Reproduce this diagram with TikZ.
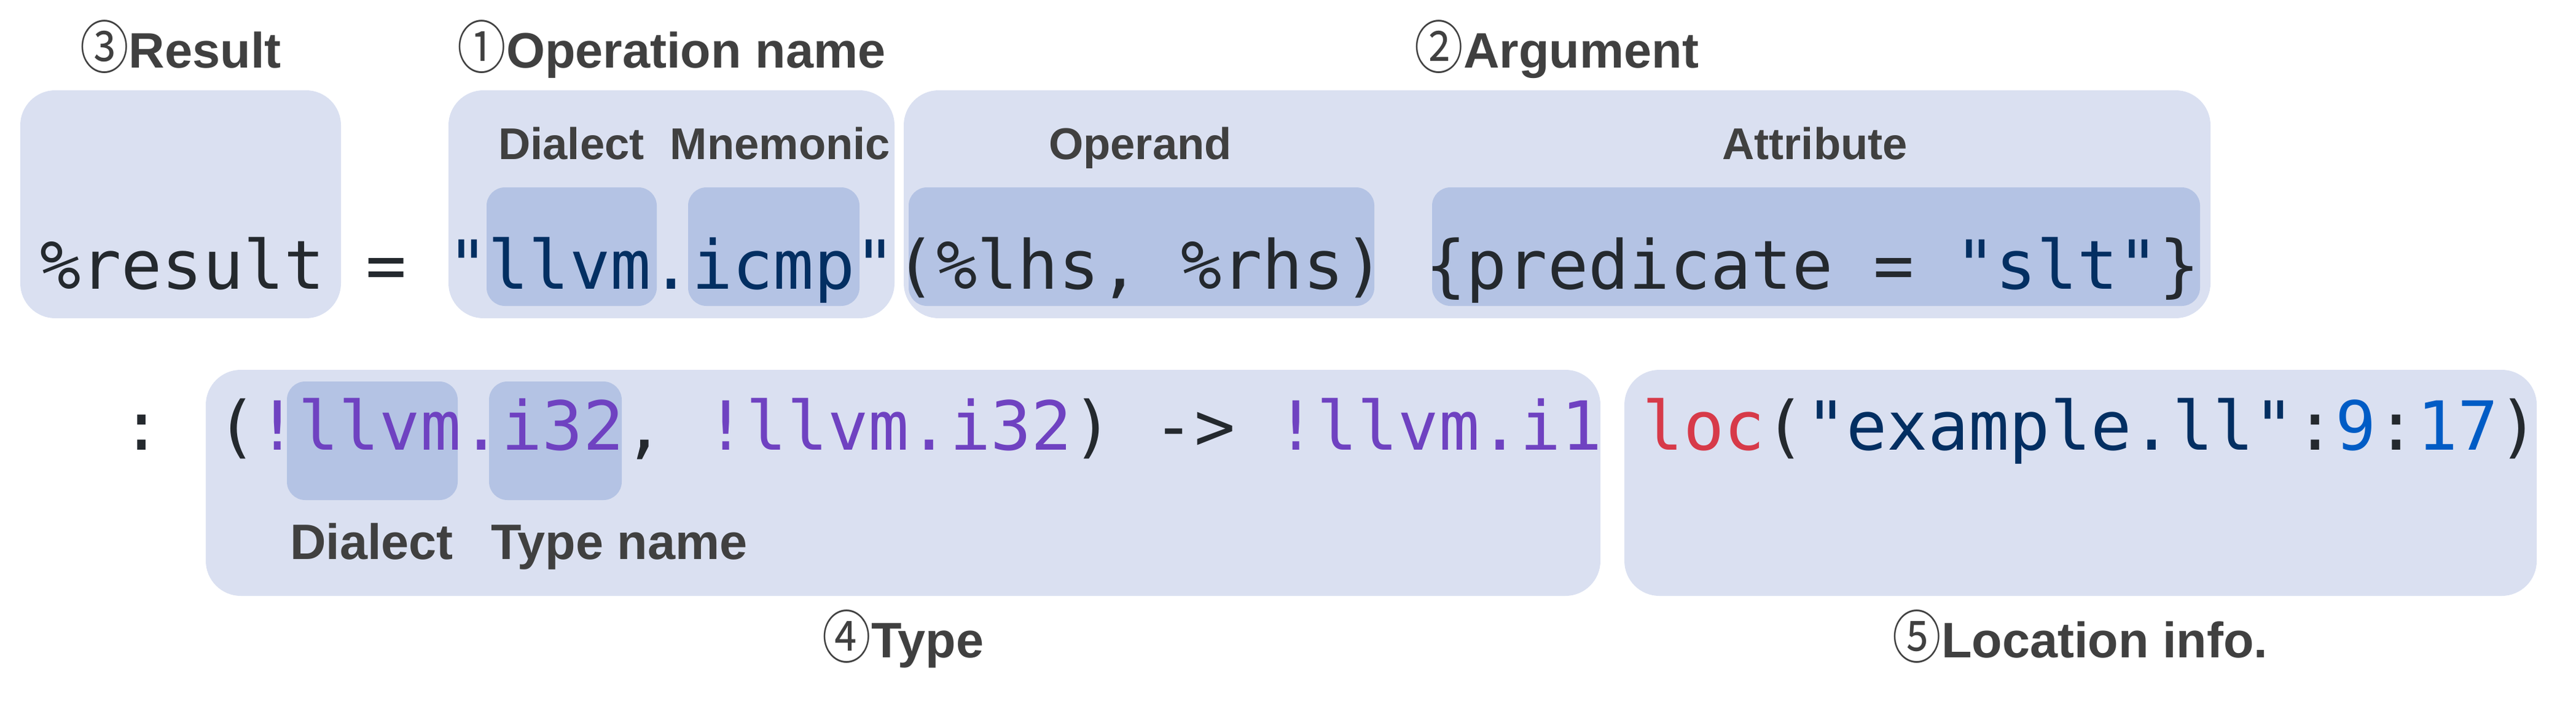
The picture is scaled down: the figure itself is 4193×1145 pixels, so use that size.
\documentclass[tikz,border=0pt]{standalone}
\usepackage{graphicx}
\usepackage{fontspec}
\setmainfont{Liberation Sans}
\newfontfamily\codefont{DejaVu Sans Mono}
\newfontfamily\cjk{Noto Sans CJK JP}
\definecolor{outerfill}{HTML}{DAE0F1}
\definecolor{innerfill}{HTML}{B4C3E4}
\definecolor{labelgray}{HTML}{404040}
\definecolor{codedark}{HTML}{24292E}
\definecolor{codestr}{HTML}{032F62}
\definecolor{codetype}{HTML}{6F42C1}
\definecolor{codekw}{HTML}{D73A49}
\definecolor{codenum}{HTML}{005CC5}
\tikzset{
  outerbox/.style={fill=outerfill, rounded corners=16.2pt},
  innerbox/.style={fill=innerfill, rounded corners=8.5pt},
  heading/.style={inner sep=0pt, outer sep=0pt, anchor=base, text=labelgray, font=\fontsize{23.05}{27}\selectfont\bfseries},
  sublabel/.style={inner sep=0pt, outer sep=0pt, anchor=base, text=labelgray, font=\fontsize{20.6}{24}\selectfont\bfseries},
  typelabel/.style={inner sep=0pt, outer sep=0pt, text=labelgray, font=\fontsize{23.05}{27}\selectfont\bfseries},
  codeline/.style={inner sep=0pt, outer sep=0pt, anchor=base west, text=codedark, font=\codefont\fontsize{31.33}{36}\selectfont},
}
\newcommand{\circnum}[1]{{\cjk\mdseries\raisebox{-0.02em}{\scalebox{0.98}[1.15]{#1}}}}
\begin{document}
\begin{tikzpicture}[x=0.01cm,y=-0.01cm]
\useasboundingbox (0,0) rectangle (4193,1145);
% row 1 outer boxes
\path[outerbox] (33,147) rectangle (555,518);
\path[outerbox] (730,147) rectangle (1456,518);
\path[outerbox] (1471,147) rectangle (3598,518);
% row 1 inner boxes
\path[innerbox] (792,305) rectangle (1069,498);
\path[innerbox] (1120,305) rectangle (1399,498);
\path[innerbox] (1479,305) rectangle (2237,498);
\path[innerbox] (2331,305) rectangle (3581,498);
% row 2 outer boxes
\path[outerbox] (335,602) rectangle (2605,970);
\path[outerbox] (2644,602) rectangle (4129,970);
% row 2 inner boxes
\path[innerbox] (467,621) rectangle (745,814);
\path[innerbox] (796,621) rectangle (1012,814);
% headings
\node[heading] (hres) at (294,110) {\circnum{③}Result};
\node[heading] (hop) at (1093,110) {\circnum{①}Operation name};
\node[heading] (harg) at (2534,110) {\circnum{②}Argument};
\node[heading] (htype) at (1470,1070) {\circnum{④}Type};
\node[heading] (hloc) at (3386,1070) {\circnum{⑤}Location info.};
% row 1 labels
\node[sublabel] (ldial) at (930,259) {Dialect};
\node[sublabel] (lmnem) at (1270,259) {Mnemonic};
\node[sublabel] (loper) at (1856,259) {Operand};
\node[sublabel] (lattr) at (2954,259) {Attribute};
% row 2 labels
\node[typelabel, anchor=base] (tdial) at (605,910) {Dialect};
\node[typelabel, anchor=base west] (tname) at (799,910) {Type name};
% code
\node[codeline] (code1) at (65,470) {\%result = \textcolor{codestr}{"llvm.icmp"}(\%lhs, \%rhs) \{predicate = \textcolor{codestr}{"slt"}\}};
\node[codeline] (code2) at (197.6,732) {: (\textcolor{codetype}{!llvm.i32}, \textcolor{codetype}{!llvm.i32}) -> \textcolor{codetype}{!llvm.i1} \textcolor{codekw}{loc}(\textcolor{codestr}{"example.ll"}:\textcolor{codenum}{9}:\textcolor{codenum}{17})};
\end{tikzpicture}
\end{document}
